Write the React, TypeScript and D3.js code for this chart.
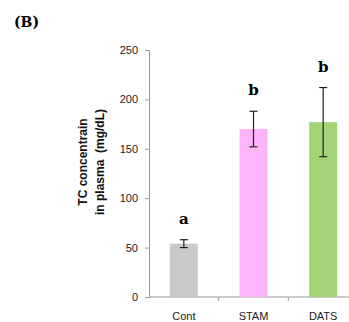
import { useEffect, useRef } from "react";
import * as d3 from "d3";

const categories = ["Cont", "STAM", "DATS"];
const means = [54, 170, 177];
const errors = [4, 18, 35];
const letters = ["a", "b", "b"];
const colors = ["#c9c9c9", "#fdb4f8", "#a4d477"];
const yTicks = [0, 50, 100, 150, 200, 250];

export default function App() {
  const ref = useRef<SVGSVGElement>(null);

  useEffect(() => {
    const svg = d3.select(ref.current);
    svg.selectAll("*").remove(); // clear before redraw

    const left = 149;
    const top = 50;
    const bottom = 297;

    const x = d3.scaleBand().domain(categories).range([left, 358]);
    const y = d3.scaleLinear().domain([0, 250]).range([bottom, top]);
    const barW = 28;
    const sans = "'Liberation Sans', Arial, sans-serif";

    svg.append("text")
      .attr("x", 14)
      .attr("y", 27)
      .style("font-family", "'DejaVu Serif', serif")
      .style("font-weight", "bold")
      .style("font-size", "14px")
      .text("(B)");

    // y axis
    const yAxis = svg.append("g")
      .attr("transform", `translate(${left},0)`)
      .call(d3.axisLeft(y).tickValues(yTicks).tickSize(4).tickPadding(7));
    yAxis.select(".domain").attr("stroke", "#999");
    yAxis.selectAll(".tick line").attr("stroke", "#999");
    yAxis.selectAll("text").style("font-family", sans).style("font-size", "11px").attr("fill", "#222");

    // x axis
    const xg = svg.append("g").attr("transform", `translate(0,${bottom})`);
    xg.append("line").attr("x1", left).attr("x2", 349).attr("stroke", "#999");
    categories.slice(1).forEach((c) => {
      xg.append("line").attr("x1", x(c)!).attr("x2", x(c)!).attr("y1", 0).attr("y2", 4).attr("stroke", "#999");
    });
    categories.forEach((c) => {
      xg.append("text")
        .attr("x", x(c)! + x.bandwidth() / 2)
        .attr("y", 23)
        .attr("text-anchor", "middle")
        .style("font-family", sans)
        .style("font-size", "11px")
        .attr("fill", "#222")
        .text(c);
    });

    // bars with error bars and significance letters
    categories.forEach((c, i) => {
      const cx = x(c)! + x.bandwidth() / 2;
      svg.append("rect")
        .attr("x", cx - barW / 2)
        .attr("y", y(means[i]))
        .attr("width", barW)
        .attr("height", bottom - y(means[i]))
        .attr("fill", colors[i]);
      const hi = y(means[i] + errors[i]);
      const lo = y(means[i] - errors[i]);
      const g = svg.append("g").attr("stroke", "#222").attr("stroke-width", 1.2);
      g.append("line").attr("x1", cx).attr("x2", cx).attr("y1", hi).attr("y2", lo);
      g.append("line").attr("x1", cx - 4).attr("x2", cx + 4).attr("y1", hi).attr("y2", hi);
      g.append("line").attr("x1", cx - 4).attr("x2", cx + 4).attr("y1", lo).attr("y2", lo);
      svg.append("text")
        .attr("x", cx)
        .attr("y", hi - 16)
        .attr("text-anchor", "middle")
        .style("font-family", "'DejaVu Serif', serif")
        .style("font-weight", "bold")
        .style("font-size", "15px")
        .text(letters[i]);
    });

    // y label
    const lab = svg.append("text")
      .attr("transform", "translate(0,162) rotate(-90)")
      .attr("text-anchor", "middle")
      .style("font-family", sans)
      .style("font-weight", "bold")
      .style("font-size", "12px")
      .attr("fill", "#111");
    lab.append("tspan").attr("x", 0).attr("y", 87).text("TC concentrain");
    lab.append("tspan").attr("x", 0).attr("y", 104).text("in plasma\u00a0\u00a0(mg/dL)");
  }, []);

  return <svg ref={ref} width={349} height={322} style={{ position: "absolute", left: 0, top: 0 }}></svg>;
}
